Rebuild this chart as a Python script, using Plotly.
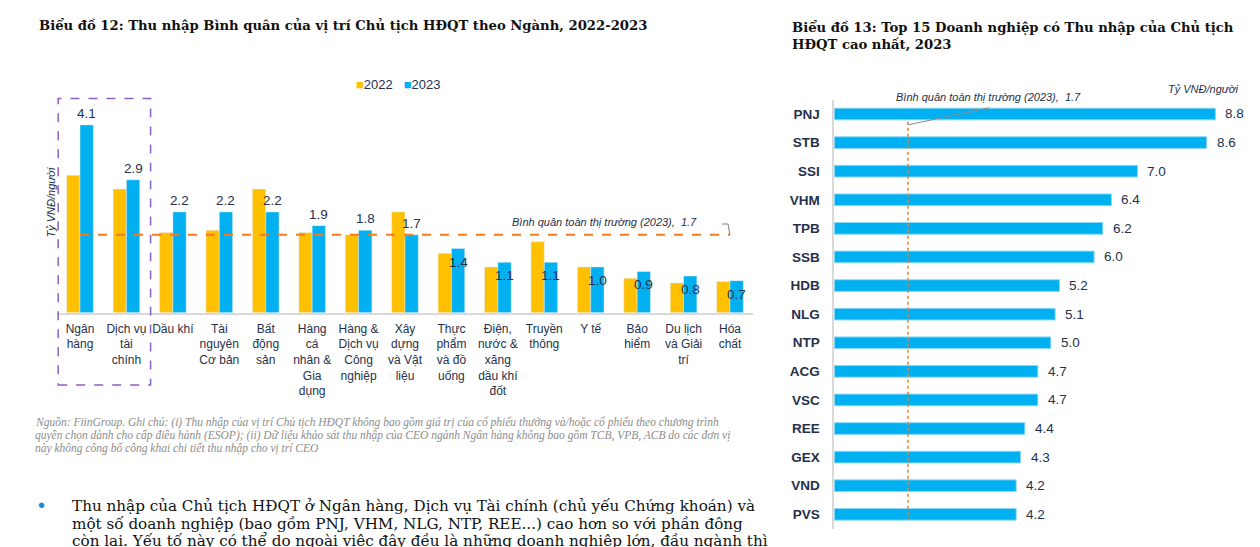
import plotly.graph_objects as go

# ---------------- data ----------------
sectors = ["Ngân hàng", "Dịch vụ tài chính", "Dầu khí", "Tài nguyên Cơ bản", "Bất động sản",
           "Hàng cá nhân & Gia dụng", "Hàng & Dịch vụ Công nghiệp", "Xây dựng và Vật liệu",
           "Thực phẩm và đồ uống", "Điện, nước & xăng dầu khí đốt", "Truyền thông", "Y tế",
           "Bảo hiểm", "Du lịch và Giải trí", "Hóa chất"]
sector_ticktext = ["Ngân<br>hàng", "Dịch vụ<br>tài<br>chính", "Dầu khí", "Tài<br>nguyên<br>Cơ bản",
                   "Bất<br>động<br>sản", "Hàng<br>cá<br>nhân &<br>Gia<br>dụng",
                   "Hàng &<br>Dịch vụ<br>Công<br>nghiệp", "Xây<br>dựng<br>và Vật<br>liệu",
                   "Thực<br>phẩm<br>và đồ<br>uống", "Điện,<br>nước &<br>xăng<br>dầu khí<br>đốt",
                   "Truyền<br>thông", "Y tế", "Bảo<br>hiểm", "Du lịch<br>và Giải<br>trí", "Hóa<br>chất"]
income_2022 = [3.0, 2.7, 1.75, 1.8, 2.7, 1.75, 1.7, 2.2, 1.3, 1.0, 1.55, 1.0, 0.75, 0.65, 0.68]
income_2023 = [4.1, 2.9, 2.2, 2.2, 2.2, 1.9, 1.8, 1.7, 1.4, 1.1, 1.1, 1.0, 0.9, 0.8, 0.7]
market_avg_2023 = 1.7

companies = ["PNJ", "STB", "SSI", "VHM", "TPB", "SSB", "HDB", "NLG", "NTP", "ACG", "VSC",
             "REE", "GEX", "VND", "PVS"]
company_income_2023 = [8.8, 8.6, 7.0, 6.4, 6.2, 6.0, 5.2, 5.1, 5.0, 4.7, 4.7, 4.4, 4.3, 4.2, 4.2]

title_left = "Biểu đồ 12: Thu nhập Bình quân của vị trí Chủ tịch HĐQT theo Ngành, 2022-2023"
title_right = ["Biểu đồ 13: Top 15 Doanh nghiệp có Thu nhập của Chủ tịch", "HĐQT cao nhất, 2023"]
source_lines = [
    "Nguồn: FiinGroup. Ghi chú: (i) Thu nhập của vị trí Chủ tịch HĐQT không bao gồm giá trị của cổ phiếu thưởng và/hoặc cổ phiếu theo chương trình",
    "quyền chọn dành cho cấp điều hành (ESOP); (ii) Dữ liệu khảo sát thu nhập của CEO ngành Ngân hàng không bao gồm TCB, VPB, ACB do các đơn vị",
    "này không công bố công khai chi tiết thu nhập cho vị trí CEO",
]
bullet_lines = [
    "Thu nhập của Chủ tịch HĐQT ở Ngân hàng, Dịch vụ Tài chính (chủ yếu Chứng khoán) và",
    "một số doanh nghiệp (bao gồm PNJ, VHM, NLG, NTP, REE...) cao hơn so với phần đông",
    "còn lại. Yếu tố này có thể do ngoài việc đây đều là những doanh nghiệp lớn, đầu ngành thì",
]

# ---------------- styles ----------------
C22 = "#FFC000"
C23 = "#00B0F0"
ORANGE = "#F47B20"
NAVY = "#26304A"
SANS = "Liberation Sans, Arial, sans-serif"
SERIF = "DejaVu Serif, serif"
W = 1260
H = 547


def px_x(p):
    return p / W


def px_y(p):
    return 1 - p / H


bw = 0.287  # bar width (category units), left chart

fig = go.Figure()
fig.add_trace(go.Bar(x=list(range(len(sectors))), y=income_2022, name="2022", marker_color=C22,
                     width=bw, offset=-bw, showlegend=False, xaxis="x", yaxis="y",
                     hovertext=sectors))
fig.add_trace(go.Bar(x=list(range(len(sectors))), y=income_2023, name="2023", marker_color=C23,
                     width=bw, offset=0, showlegend=False, xaxis="x", yaxis="y",
                     hovertext=sectors))
fig.add_trace(go.Bar(x=company_income_2023, y=companies, orientation="h", name="2023 DN",
                     marker=dict(color=C23, line=dict(color="#8FD9F6", width=1)),
                     width=0.41, showlegend=False, xaxis="x2", yaxis="y2"))

annotations = []
# value labels, left chart (2023)
for i, v in enumerate(income_2023):
    above = v >= market_avg_2023
    annotations.append(dict(x=i + bw / 2, y=v, xref="x", yref="y", text=f"{v:.1f}",
                            showarrow=False, yanchor="bottom" if above else "top",
                            yshift=2 if above else -4,
                            font=dict(family=SANS, size=13.5, color=NAVY)))
# market average label, left chart
annotations.append(dict(x=11.3, y=market_avg_2023, xref="x", yref="y",
                        text=f"Bình quân toàn thị trường (2023),  {market_avg_2023}",
                        showarrow=False, yanchor="bottom", yshift=5,
                        font=dict(family=SANS, size=11, color=NAVY, style="italic")))
# value labels, right chart
for c, v in zip(companies, company_income_2023):
    annotations.append(dict(x=v, y=c, xref="x2", yref="y2", text=f"{v:.1f}",
                            showarrow=False, xanchor="left", xshift=8,
                            font=dict(family=SANS, size=13.5, color=NAVY)))


def paper_text(x, y, text, font, xanchor="left", **kw):
    annotations.append(dict(x=px_x(x), y=px_y(y), xref="paper", yref="paper", text=text,
                            xanchor=xanchor, yanchor="middle", showarrow=False, font=font, **kw))


# market average label, right chart
annotations.append(dict(x=3.55, y=px_y(97), xref="x2", yref="paper", yanchor="middle",
                        text=f"Bình quân toàn thị trường (2023),  {market_avg_2023}",
                        showarrow=False, font=dict(family=SANS, size=11, color=NAVY, style="italic")))
paper_text(1240, 89, "Tỷ VNĐ/người", dict(family=SANS, size=11, color=NAVY, style="italic"),
           xanchor="right")
# y title, left chart
paper_text(50.5, 203, "Tỷ VNĐ/người", dict(family=SANS, size=11, color=NAVY, style="italic"),
           xanchor="center", textangle=-90)
# legend (left chart)
paper_text(354, 84, f"<span style='color:{C22}'>■</span>2022   <span style='color:{C23}'>■</span>2023",
           dict(family=SANS, size=13, color=NAVY))
# titles
paper_text(37, 25, f"<b>{title_left}</b>", dict(family=SERIF, size=13.2, color="#111111"))
paper_text(790, 27, f"<b>{title_right[0]}</b>", dict(family=SERIF, size=13.2, color="#111111"))
paper_text(790, 45, f"<b>{title_right[1]}</b>", dict(family=SERIF, size=13.2, color="#111111"))
# source note
for k, line in enumerate(source_lines):
    paper_text(33, 422 + 13 * k, line,
               dict(family="Liberation Serif, serif", size=11.5, color="#8C8C8C", style="italic"))
# bullet paragraph
paper_text(41, 505, "•", dict(family=SANS, size=20, color="#1E88D8"), xanchor="center")
for k, line in enumerate(bullet_lines):
    paper_text(70, 506 + 17.5 * k, line, dict(family=SERIF, size=15.2, color="#111111"))

shapes = [
    # market average dashed line, left chart
    dict(type="line", xref="x", yref="y", x0=0, x1=14, y0=market_avg_2023, y1=market_avg_2023,
         line=dict(color=ORANGE, width=2, dash="dash")),
    # small leader at end of the line
    dict(type="path", xref="paper", yref="paper",
         path=f"M {px_x(722)} {px_y(224)} L {px_x(728)} {px_y(224)} L {px_x(730)} {px_y(235)}",
         line=dict(color="#7F7F7F", width=1)),
    # purple highlight box
    dict(type="rect", xref="x", yref="paper", x0=-0.47, x1=1.52, y0=px_y(385), y1=px_y(98.5),
         line=dict(color="#8E5FC2", width=1.5, dash="dash")),
    # market average dotted line, right chart
    dict(type="line", xref="x2", yref="y2", x0=market_avg_2023, x1=market_avg_2023, y0=0.27, y1=14.2,
         line=dict(color=ORANGE, width=1.5, dash="dot")),
    # leader line for right label
    dict(type="line", xref="x2", yref="y2", x0=market_avg_2023, x1=3.58, y0=0.38, y1=-0.22,
         line=dict(color="#8C8C8C", width=1)),
]

fig.update_layout(
    width=W, height=H, margin=dict(l=0, r=0, t=0, b=0),
    paper_bgcolor="white", plot_bgcolor="white",
    showlegend=False, barmode="overlay",
    xaxis=dict(domain=[px_x(56.8), px_x(753.2)], range=[-0.5, 14.5],
               tickvals=list(range(len(sectors))), ticktext=sector_ticktext,
               tickfont=dict(family=SANS, size=12, color=NAVY),
               showline=True, linecolor="#D9D9D9", linewidth=1.5, showgrid=False,
               zeroline=False, ticks="", ticklabelstandoff=4, anchor="y"),
    yaxis=dict(domain=[px_y(312.7), px_y(102.0)], range=[0, 4.6], visible=False,
               showgrid=False, zeroline=False),
    xaxis2=dict(domain=[px_x(834.3), px_x(1245.7)], range=[0, 9.5], visible=False,
                showgrid=False, zeroline=False, anchor="y2"),
    yaxis2=dict(domain=[px_y(528.6), px_y(99.7)], categoryorder="array", categoryarray=companies,
                range=[14.5, -0.5], anchor="x2", showline=True, linecolor="#D9D9D9", linewidth=1.5,
                showgrid=False, ticks="", ticklabelstandoff=10,
                tickfont=dict(family=SANS, size=13.5, color=NAVY, weight="bold")),
    annotations=annotations, shapes=shapes,
)

fig.write_html("out.html", config={"displayModeBar": False},
               post_script="document.body.style.margin='0';document.body.style.overflow='hidden';")
